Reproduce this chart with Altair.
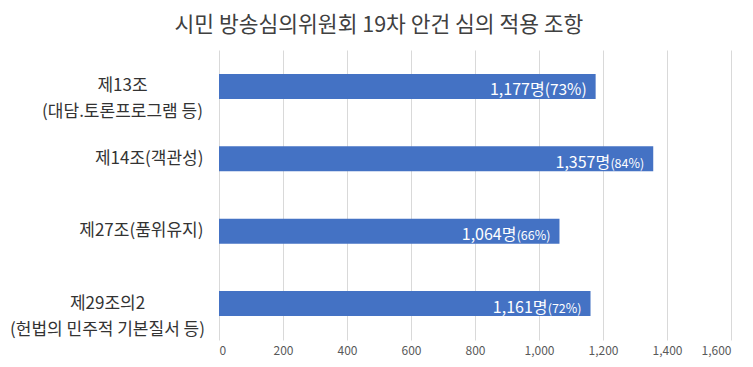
import json
import altair as alt
import pandas as pd

categories = [
    "제13조\n(대담.토론프로그램 등)",
    "제14조(객관성)",
    "제27조(품위유지)",
    "제29조의2\n(헌법의 민주적 기본질서 등)",
]
counts = [1177, 1357, 1064, 1161]
percents = [73, 84, 66, 72]
x_ticks = [0, 200, 400, 600, 800, 1000, 1200, 1400, 1600]
title_text = "시민 방송심의위원회 19차 안건 심의 적용 조항"

FONT = "Noto Sans CJK KR"

df = pd.DataFrame({"category": categories, "count": counts, "pct": percents})
df["num_label"] = [f"{c:,}명" for c in counts]
df["pct_label"] = [f"({p}%)" for p in percents]
df["rank"] = list(range(len(df)))

label_align = {
    "condition": {"test": "indexof(datum.value, '\\n') >= 0", "value": "center"},
    "value": "right",
}
label_padding = {
    "condition": [
        {"test": f"datum.value == {json.dumps(categories[0])}", "value": 97},
        {"test": f"datum.value == {json.dumps(categories[3])}", "value": 112},
    ],
    "value": 16,
}

y_enc = alt.Y(
    "category:N",
    sort=categories,
    scale=alt.Scale(paddingInner=0.655, paddingOuter=0.33),
    axis=alt.Axis(
        title=None,
        domain=False,
        ticks=False,
        labelExpr="split(datum.label, '\\n')",
        labelFont=FONT,
        labelFontSize=17,
        labelColor="#333333",
        labelLineHeight=26,
        labelAlign=label_align,
        labelPadding=label_padding,
        labelBaseline="middle",
        labelLimit=400,
    ),
)
x_enc = alt.X(
    "count:Q",
    scale=alt.Scale(domain=[0, 1600], nice=False),
    axis=alt.Axis(
        title=None,
        values=x_ticks,
        format=",d",
        grid=True,
        gridColor="#d9d9d9",
        gridWidth=1,
        domain=False,
        ticks=False,
        labelColor="#595959",
        labelFont=FONT,
        labelFontSize=12,
        labelPadding=5,
    ),
)

base = alt.Chart(df).encode(y=y_enc, x=x_enc)

bars = base.mark_bar(color="#4472C4")

pct_text = base.mark_text(
    align="right", baseline="alphabetic", dx=-9, dy=9, color="white", font=FONT
).encode(
    text="pct_label:N",
    size=alt.condition("datum.rank == 0", alt.value(15.5), alt.value(12.5)),
)

num_first = base.transform_filter("datum.rank == 0").mark_text(
    align="right", baseline="alphabetic", dx=-51, dy=9, color="white", font=FONT, fontSize=16
).encode(text="num_label:N")

num_rest = base.transform_filter("datum.rank > 0").mark_text(
    align="right", baseline="alphabetic", dx=-43, dy=9, color="white", font=FONT, fontSize=16
).encode(text="num_label:N")

chart = (
    alt.layer(bars, pct_text, num_first, num_rest)
    .properties(
        width=512,
        height=290,
        autosize=alt.AutoSizeParams(type="none"),
        padding={"left": 211, "top": 42, "right": 14, "bottom": 19},
        background="white",
        title=alt.TitleParams(
            title_text,
            font=FONT,
            fontSize=21.5,
            fontWeight="normal",
            color="#404040",
            anchor="middle",
            dx=-96,
            offset=14,
        ),
    )
    .configure_view(stroke=None)
)

chart.save("out.html", embed_options={"renderer": "svg", "actions": False})
